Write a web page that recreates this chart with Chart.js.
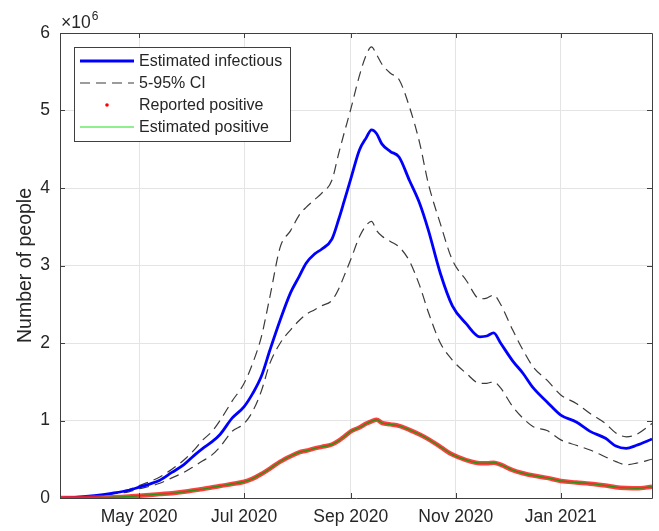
<!DOCTYPE html>
<html>
<head>
<meta charset="utf-8">
<script src="https://cdn.jsdelivr.net/npm/chart.js@4/dist/chart.umd.min.js"></script>
<style>
  html, body { margin: 0; padding: 0; background: #ffffff; }
  #wrap { width: 659px; height: 531px; }
</style>
</head>
<body>
<div id="wrap"><canvas id="c" width="659" height="531"></canvas></div>
<script>
// Days since 16 Mar 2020
const days = [0, 10, 20, 30, 40, 46, 52, 58, 65, 72, 78, 83, 88, 93, 100, 107, 112, 117, 122, 128,
  134, 139, 143, 148, 152, 158, 162, 165, 169, 174, 178, 181, 184, 187, 192, 197, 203, 209, 214, 221,
  228, 236, 244, 248, 252, 256, 263, 269, 275, 283, 291, 300, 308, 317, 323, 329, 335, 344];

// Values in millions of people
const estimatedInfectious = [0, 0.01, 0.03, 0.06, 0.10, 0.14, 0.18, 0.23, 0.33, 0.43, 0.55, 0.64, 0.72, 0.82, 1.03, 1.18, 1.35, 1.57, 1.91, 2.30,
  2.65, 2.86, 3.03, 3.15, 3.21, 3.34, 3.60, 3.82, 4.12, 4.49, 4.65, 4.75, 4.70, 4.57, 4.47, 4.40, 4.10, 3.80, 3.46, 2.90,
  2.48, 2.25, 2.08, 2.09, 2.13, 2.00, 1.77, 1.61, 1.42, 1.24, 1.07, 0.98, 0.86, 0.77, 0.67, 0.64, 0.68, 0.76];

const ciUpper = [0, 0.01, 0.03, 0.06, 0.11, 0.16, 0.21, 0.27, 0.37, 0.49, 0.62, 0.75, 0.85, 1.00, 1.25, 1.48, 1.74, 2.08, 2.60, 3.24,
  3.45, 3.65, 3.75, 3.85, 3.93, 4.10, 4.45, 4.70, 5.02, 5.45, 5.72, 5.82, 5.72, 5.60, 5.48, 5.40, 5.05, 4.58, 4.06, 3.54,
  3.07, 2.81, 2.57, 2.58, 2.62, 2.50, 2.17, 1.91, 1.69, 1.52, 1.33, 1.22, 1.09, 0.96, 0.84, 0.79, 0.82, 0.96];

const ciLower = [0, 0.01, 0.02, 0.05, 0.08, 0.12, 0.15, 0.19, 0.26, 0.33, 0.41, 0.48, 0.55, 0.66, 0.86, 0.96, 1.12, 1.38, 1.74, 2.00,
  2.17, 2.29, 2.37, 2.43, 2.48, 2.55, 2.70, 2.86, 3.08, 3.37, 3.52, 3.57, 3.45, 3.38, 3.31, 3.24, 3.06, 2.74, 2.40, 2.00,
  1.78, 1.61, 1.48, 1.48, 1.50, 1.42, 1.18, 1.03, 0.92, 0.87, 0.75, 0.68, 0.62, 0.53, 0.47, 0.43, 0.45, 0.50];

const reportedPositive = [0, 0, 0.005, 0.01, 0.02, 0.03, 0.04, 0.05, 0.06, 0.08, 0.10, 0.115, 0.135, 0.155, 0.18, 0.21, 0.25, 0.31, 0.38, 0.47,
  0.54, 0.59, 0.61, 0.64, 0.66, 0.69, 0.74, 0.79, 0.86, 0.91, 0.96, 0.99, 1.01, 0.97, 0.95, 0.93, 0.88, 0.82, 0.76, 0.66,
  0.56, 0.49, 0.45, 0.45, 0.455, 0.43, 0.36, 0.32, 0.29, 0.26, 0.22, 0.20, 0.185, 0.16, 0.14, 0.13, 0.125, 0.145];

const estimatedPositive = [0, 0, 0.005, 0.01, 0.02, 0.03, 0.04, 0.05, 0.06, 0.08, 0.10, 0.115, 0.135, 0.155, 0.18, 0.21, 0.25, 0.31, 0.38, 0.47,
  0.54, 0.59, 0.61, 0.64, 0.66, 0.69, 0.74, 0.79, 0.86, 0.91, 0.96, 0.99, 1.01, 0.97, 0.95, 0.93, 0.88, 0.82, 0.76, 0.66,
  0.56, 0.49, 0.45, 0.45, 0.455, 0.43, 0.36, 0.32, 0.29, 0.26, 0.22, 0.20, 0.185, 0.16, 0.14, 0.13, 0.125, 0.145];

const tickDays = [46, 107, 169, 230, 291];
const tickLabels = ['May 2020', 'Jul 2020', 'Sep 2020', 'Nov 2020', 'Jan 2021'];
const yTickValues = [0, 1, 2, 3, 4, 5, 6];
const MILLION = 1e6;

const FONT = '"Liberation Sans", Arial, Helvetica, sans-serif';
const TICK_SIZE = 17.5;
const LEGEND_SIZE = 16;
const LABEL_SIZE = 19.5;
const TEXT = '#262626';
const AXIS = '#404040';

const toPoints = arr => days.map((d, i) => ({ x: d, y: arr[i] * MILLION }));

// Inward tick marks on all four sides, box outline, exponent and y title
const axesDecor = {
  id: 'axesDecor',
  afterDatasetsDraw(chart) {
    const { ctx, chartArea: a, scales: { x, y } } = chart;
    ctx.save();
    ctx.strokeStyle = AXIS;
    ctx.lineWidth = 1;
    ctx.beginPath();
    ctx.rect(Math.round(a.left) + 0.5, Math.round(a.top) + 0.5,
      Math.round(a.right - a.left), Math.round(a.bottom - a.top));
    ctx.stroke();
    const L = 5;
    ctx.beginPath();
    tickDays.forEach(d => {
      const px = Math.round(x.getPixelForValue(d)) + 0.5;
      ctx.moveTo(px, a.bottom); ctx.lineTo(px, a.bottom - L);
      ctx.moveTo(px, a.top); ctx.lineTo(px, a.top + L);
    });
    yTickValues.forEach(v => {
      const py = Math.round(y.getPixelForValue(v * MILLION)) + 0.5;
      ctx.moveTo(a.left, py); ctx.lineTo(a.left + L, py);
      ctx.moveTo(a.right, py); ctx.lineTo(a.right - L, py);
    });
    ctx.stroke();

    // exponent label
    ctx.fillStyle = TEXT;
    ctx.textBaseline = 'alphabetic';
    ctx.textAlign = 'left';
    ctx.font = TICK_SIZE + 'px ' + FONT;
    ctx.fillText('\u00d710', a.left + 1, a.top - 5);
    const w = ctx.measureText('\u00d710').width;
    ctx.font = '12px ' + FONT;
    ctx.fillText('6', a.left + 2 + w, a.top - 13);

    // y axis title
    ctx.font = LABEL_SIZE + 'px ' + FONT;
    ctx.translate(26, (a.top + a.bottom) / 2);
    ctx.rotate(-Math.PI / 2);
    ctx.textAlign = 'center';
    ctx.textBaseline = 'middle';
    ctx.fillText('Number of people', 0, 0);
    ctx.restore();
  }
};

// Boxed legend in the upper-left corner of the plot
const boxLegend = {
  id: 'boxLegend',
  afterDraw(chart) {
    const { ctx } = chart;
    const ds = chart.data.datasets;
    const entries = [
      { label: ds[0].label, kind: 'line', color: ds[0].borderColor, width: ds[0].borderWidth, dash: [] },
      { label: ds[1].label, kind: 'line', color: ds[1].borderColor, width: ds[1].borderWidth, dash: ds[1].borderDash },
      { label: ds[3].label, kind: 'dot', color: '#ff0000' },
      { label: ds[4].label, kind: 'line', color: '#22dd22', width: 1, dash: [] }
    ];
    const bx = 74.5, by = 47.5, bw = 216, bh = 94;
    ctx.save();
    ctx.fillStyle = '#ffffff';
    ctx.fillRect(bx, by, bw, bh);
    ctx.strokeStyle = AXIS;
    ctx.lineWidth = 1;
    ctx.strokeRect(bx, by, bw, bh);
    ctx.font = LEGEND_SIZE + 'px ' + FONT;
    ctx.textBaseline = 'middle';
    ctx.textAlign = 'left';
    entries.forEach((e, i) => {
      const cy = 61 + i * 22;
      if (e.kind === 'line') {
        ctx.strokeStyle = e.color;
        ctx.lineWidth = e.width;
        ctx.setLineDash(e.dash || []);
        ctx.beginPath();
        ctx.moveTo(80, cy); ctx.lineTo(134, cy);
        ctx.stroke();
        ctx.setLineDash([]);
      } else {
        ctx.fillStyle = e.color;
        ctx.beginPath();
        ctx.arc(107, cy, 1.8, 0, Math.PI * 2);
        ctx.fill();
      }
      ctx.fillStyle = TEXT;
      ctx.fillText(e.label, 139, cy + 1);
    });
    ctx.restore();
  }
};

new Chart(document.getElementById('c'), {
  type: 'line',
  data: {
    datasets: [
      { label: 'Estimated infectious', data: toPoints(estimatedInfectious), borderColor: '#0000ff',
        borderWidth: 2.8, pointRadius: 0, cubicInterpolationMode: 'monotone', order: 2 },
      { label: '5-95% CI', data: toPoints(ciUpper), borderColor: '#3a3a3a', borderWidth: 1.2,
        borderDash: [10, 6], pointRadius: 0, cubicInterpolationMode: 'monotone', order: 3 },
      { label: '5-95% CI (lower)', data: toPoints(ciLower), borderColor: '#3a3a3a', borderWidth: 1.2,
        borderDash: [10, 6], pointRadius: 0, cubicInterpolationMode: 'monotone', order: 3 },
      { label: 'Reported positive', data: toPoints(reportedPositive), borderColor: 'rgba(255,30,30,0.85)',
        borderWidth: 4.5, pointRadius: 0, cubicInterpolationMode: 'monotone', order: 1 },
      { label: 'Estimated positive', data: toPoints(estimatedPositive), borderColor: '#2f8f10',
        borderWidth: 1.4, pointRadius: 0, cubicInterpolationMode: 'monotone', order: 0 }
    ]
  },
  options: {
    responsive: false,
    animation: false,
    devicePixelRatio: 1,
    layout: { padding: { left: 0, top: 33, right: 7, bottom: 0 } },
    plugins: { legend: { display: false }, tooltip: { enabled: false } },
    scales: {
      x: {
        type: 'linear',
        min: 0,
        max: 344,
        afterBuildTicks: scale => { scale.ticks = tickDays.map(v => ({ value: v })); },
        afterFit: scale => { scale.height = 33; },
        grid: { color: '#e4e4e4', lineWidth: 1, drawTicks: false },
        border: { display: false },
        ticks: {
          autoSkip: false,
          maxRotation: 0,
          padding: 9,
          color: TEXT,
          font: { family: FONT, size: TICK_SIZE },
          callback: v => tickLabels[tickDays.indexOf(v)]
        }
      },
      y: {
        min: 0,
        max: 6 * MILLION,
        afterBuildTicks: scale => { scale.ticks = yTickValues.map(v => ({ value: v * MILLION })); },
        afterFit: scale => { scale.width = 60; },
        grid: { color: '#e4e4e4', lineWidth: 1, drawTicks: false },
        border: { display: false },
        ticks: {
          padding: 10,
          color: TEXT,
          font: { family: FONT, size: TICK_SIZE },
          callback: v => String(v / MILLION)
        }
      }
    }
  },
  plugins: [axesDecor, boxLegend]
});
</script>
</body>
</html>
